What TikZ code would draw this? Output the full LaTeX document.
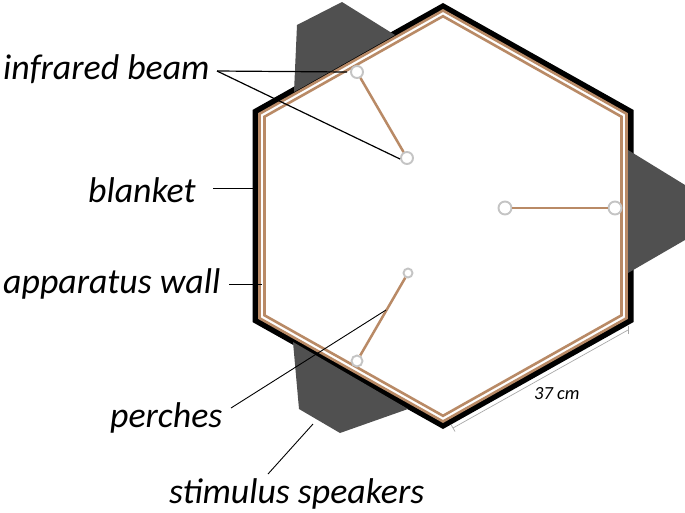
\documentclass[tikz,border=0pt]{standalone}
\usepackage{fontspec}
\setmainfont{Carlito}
\tikzset{
  x=1pt,y=-1pt,
  speaker/.style={fill=spk,draw=none},
  labeltext/.style={font=\itshape\fontsize{35.8}{36}\selectfont,anchor=base west,inner sep=0pt,text=black},
  leader/.style={draw=black,line width=0.9pt},
  perchbar/.style={draw=wallbrown,line width=2.5pt},
  perch/.style={circle,draw=perchgray,fill=white,line width=1.9pt,inner sep=0pt,minimum size=#1},
  wallline/.style={draw=wallbrown,line width=2.6pt,miter limit=10},
  dimline/.style={draw=dimgray,line width=0.7pt},
}
\definecolor{spk}{HTML}{505050}
\definecolor{wallbrown}{HTML}{B98A66}
\definecolor{perchgray}{HTML}{C4C4C4}
\definecolor{dimgray}{HTML}{A8A8A8}
\begin{document}
\begin{tikzpicture}
\useasboundingbox (0,0) rectangle (685,512);
% blanket
\draw[black,line width=7pt,miter limit=10] (443,7) -- (630,112) -- (630,320) -- (443,425) -- (256,320) -- (256,112) -- cycle;
% speakers
\fill[speaker] (342,2) -- (297,25) -- (294,92) -- (395,35) -- cycle;
\fill[speaker] (628,150) -- (685,185) -- (685,240) -- (628,273) -- cycle;
\fill[speaker] (293,342) -- (299,409) -- (340,433) -- (408,409) -- cycle;
% apparatus wall
\draw[wallline,fill=white] (443,10.5) -- (626.5,113.8) -- (626.5,318.2) -- (443,421.5) -- (259.5,318.2) -- (259.5,113.8) -- cycle;
\draw[wallline] (443,16.2) -- (621.5,116.7) -- (621.5,315.3) -- (443,415.8) -- (264.5,315.3) -- (264.5,116.7) -- cycle;
% perches
\node[perch=12pt] (p1) at (357,72) {};
\node[perch=12pt] (p2) at (407,158) {};
\node[perch=13pt] (p3) at (505,208) {};
\node[perch=13pt] (p4) at (615,208) {};
\node[perch=9pt] (p5) at (408,273) {};
\node[perch=11pt] (p6) at (357,361) {};
\draw[perchbar] (p1) -- (p2);
\draw[perchbar] (p3) -- (p4);
\draw[perchbar] (p5) -- (p6);
% labels
\node[labeltext] (lbeam) at (3,79) {infrared beam};
\node[labeltext] (lblanket) at (88,202) {blanket};
\node[labeltext] (lwall) at (3,293) {apparatus wall};
\node[labeltext] (lperches) at (110,427) {perches};
\node[labeltext] (lspeakers) at (169,503) {stimulus speakers};
\node[font=\itshape\fontsize{18.5}{18}\selectfont,anchor=base west,inner sep=0pt] (ldim) at (534,399) {37 cm};
% leaders
\coordinate (beamroot) at (217,71);
\coordinate (blanketend) at (253,188);
\coordinate (blanketstart) at (213,188);
\coordinate (wallend) at (262,284);
\coordinate (wallstart) at (229,284);
\coordinate (perchend) at (386,310);
\coordinate (perchstart) at (231,408);
\coordinate (spkend) at (313,424);
\coordinate (spkstart) at (268,474);
\coordinate (beamend1) at (347,72);
\coordinate (beamend2) at (400,159);
\draw[leader,line width=1.2pt] (beamroot) -- (beamend1);
\draw[leader,line width=1.2pt] (beamroot) -- (beamend2);
\draw[leader] (blanketstart) -- (blanketend);
\draw[leader] (wallstart) -- (wallend);
\draw[leader] (perchstart) -- (perchend);
\draw[leader] (spkstart) -- (spkend);
% dimension
\coordinate (dimA) at (453,428);
\coordinate (dimB) at (628,330);
\draw[dimline] (dimA) -- (dimB);
\draw[dimline] (451,424.5) -- (455,431.5);
\draw[dimline] (628,326) -- (628,334);
\end{tikzpicture}
\end{document}
